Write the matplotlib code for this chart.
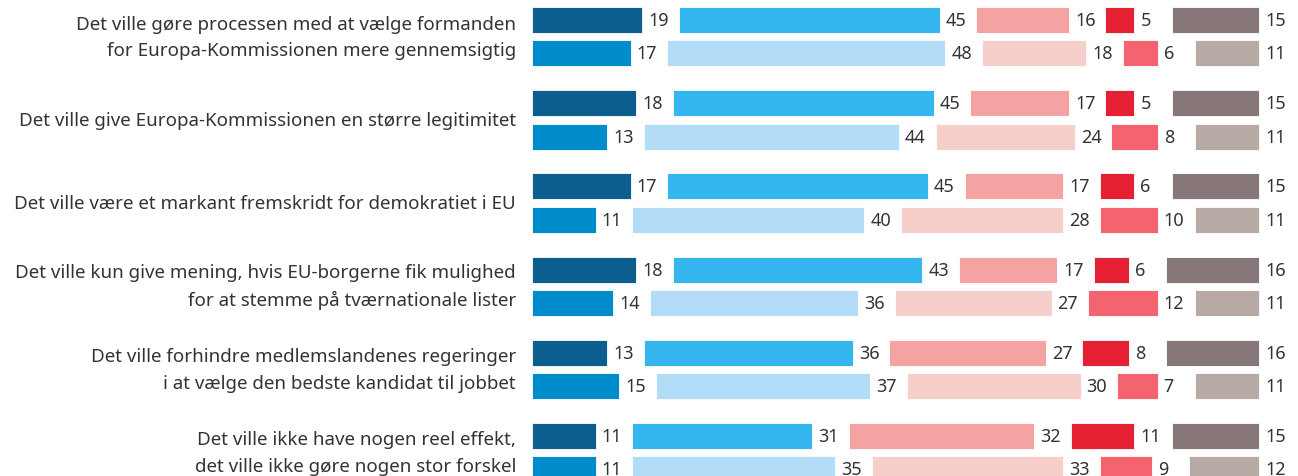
import matplotlib
matplotlib.use('Agg')
import matplotlib.pyplot as plt

plt.rcParams['font.family'] = ['Noto Sans', 'DejaVu Sans']

# udsagn (kategorier)
categories = [
    'Det ville gøre processen med at vælge formanden\nfor Europa-Kommissionen mere gennemsigtig',
    'Det ville give Europa-Kommissionen en større legitimitet',
    'Det ville være et markant fremskridt for demokratiet i EU',
    'Det ville kun give mening, hvis EU-borgerne fik mulighed\nfor at stemme på tværnationale lister',
    'Det ville forhindre medlemslandenes regeringer\ni at vælge den bedste kandidat til jobbet',
    'Det ville ikke have nogen reel effekt,\ndet ville ikke gøre nogen stor forskel',
]

# øverste række pr. udsagn
top_values = [
    [19, 45, 16, 5, 15],
    [18, 45, 17, 5, 15],
    [17, 45, 17, 6, 15],
    [18, 43, 17, 6, 16],
    [13, 36, 27, 8, 16],
    [11, 31, 32, 11, 15],
]
# nederste række pr. udsagn
bottom_values = [
    [17, 48, 18, 6, 11],
    [13, 44, 24, 8, 11],
    [11, 40, 28, 10, 11],
    [14, 36, 27, 12, 11],
    [15, 37, 30, 7, 11],
    [11, 35, 33, 9, 12],
]

top_colors = ['#0B5E8E', '#35B6EE', '#F4A3A2', '#E52032', '#877779']
bottom_colors = ['#008CCA', '#B3DCF8', '#F6CFCB', '#F4646E', '#B7A9A3']

W, H = 1298, 477
px_per_unit = 5.8
x0 = 532
gap = 36.5 / px_per_unit
grey_end = (1259 - x0) / px_per_unit

fig = plt.figure(figsize=(W / 100, H / 100), dpi=100)
ax = fig.add_axes([x0 / W, 0, (W - x0) / W, 1])
ax.set_xlim(0, (W - x0) / px_per_unit)
ax.set_ylim(H, 0)
ax.axis('off')

step = 83.2
row_off = 33.4
bar_h = 26
lab_off = 6 / px_per_unit
txt_color = '#333333'


def draw_row(vals, colors, y):
    left = 0
    for i, (v, c) in enumerate(zip(vals, colors)):
        if i == len(vals) - 1:
            left = grey_end - v
        ax.barh(y, v, left=left, height=bar_h, color=c, edgecolor='white', linewidth=0.6)
        ax.text(left + v + lab_off, y, str(v), va='center', ha='left',
                fontsize=13, color=txt_color)
        left = left + v + gap


for k, cat in enumerate(categories):
    y_top = 21 + k * step
    y_bot = y_top + row_off
    draw_row(top_values[k], top_colors, y_top)
    draw_row(bottom_values[k], bottom_colors, y_bot)
    fig.text(516 / W, 1 - (y_top + y_bot) / 2 / H, cat, ha='right', va='center',
             fontsize=13.5, color=txt_color, linespacing=1.6)

fig.savefig('out.png', dpi=100)
